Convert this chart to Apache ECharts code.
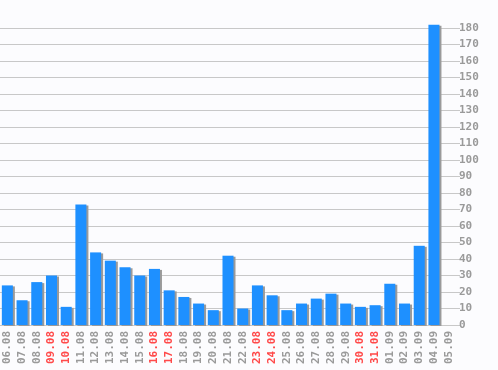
<!DOCTYPE html>
<html><head><meta charset="utf-8">
<script src="https://cdn.jsdelivr.net/npm/echarts@6/dist/echarts.min.js"></script>
<style>html,body{margin:0;padding:0;background:#fcfcfe}#c{width:498px;height:370px}</style>
</head><body><div id="c"></div>
<script>
var categories = ["06.08","07.08","08.08","09.08","10.08","11.08","12.08","13.08","14.08","15.08","16.08","17.08","18.08","19.08","20.08","21.08","22.08","23.08","24.08","25.08","26.08","27.08","28.08","29.08","30.08","31.08","01.09","02.09","03.09","04.09","05.09"];
var weekend = ["09.08","10.08","16.08","17.08","23.08","24.08","30.08","31.08"];
var values = [24,15,26,30,11,73,44,39,35,30,34,21,17,13,9,42,10,24,18,9,13,16,19,13,11,12,25,13,48,182,0];
var yMin = 0, yMax = 180, yStep = 10;

var chart = echarts.init(document.getElementById('c'));
var font = 'DejaVu Sans Mono';
chart.setOption({
  backgroundColor: '#fcfcfe',
  animation: false,
  grid: {left: -2, right: 42, top: 28, bottom: 45},
  xAxis: {
    type: 'category',
    data: categories.map(function (c) {
      return {value: c, textStyle: {color: weekend.indexOf(c) >= 0 ? '#ff4a4a' : '#9a9a9a'}};
    }),
    axisLine: {show: false},
    axisTick: {show: false},
    axisLabel: {rotate: 90, margin: 6, padding: [0, 0, 6, 0], fontFamily: font, fontSize: 11, fontWeight: 'bold', interval: 0}
  },
  yAxis: {
    type: 'value', position: 'right', min: yMin, max: yMax, interval: yStep,
    axisLine: {show: false},
    axisTick: {show: true, length: 4, lineStyle: {color: '#c8c8c8'}},
    axisLabel: {margin: 3, color: '#9a9a9a', fontFamily: font, fontSize: 11, fontWeight: 'bold'},
    splitLine: {lineStyle: {color: '#c8c8c8', width: 1}}
  },
  series: [{
    type: 'bar',
    data: values,
    clip: false,
    barCategoryGap: '25%',
    itemStyle: {
      color: '#1e90ff',
      shadowColor: '#9a9a9a', shadowOffsetX: 2, shadowOffsetY: 1, shadowBlur: 0
    }
  }]
});
</script></body></html>
